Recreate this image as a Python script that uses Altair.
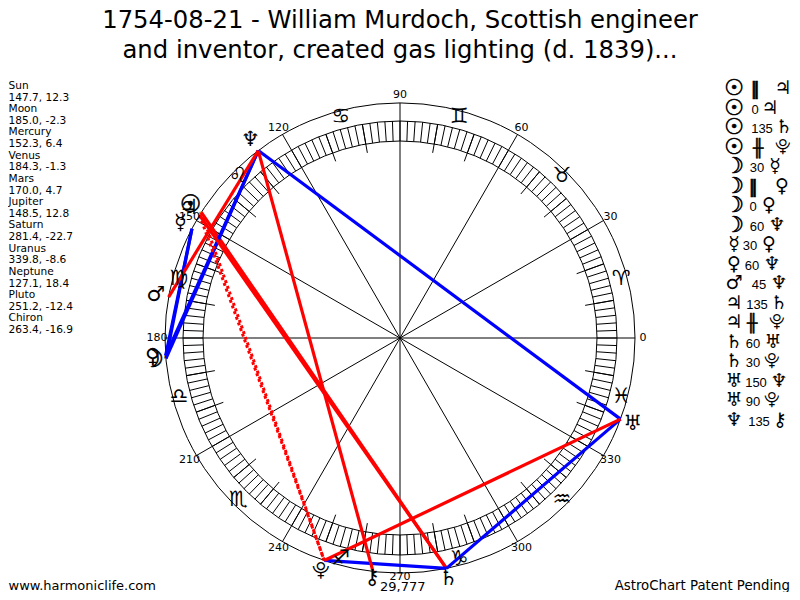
import altair as alt
import numpy as np
import pandas as pd

# ---- values ----
title_lines = ["1754-08-21 - William Murdoch, Scottish engineer",
               "and inventor, created gas lighting (d. 1839)..."]
bodies = ["Sun", "Moon", "Mercury", "Venus", "Mars", "Jupiter", "Saturn",
          "Uranus", "Neptune", "Pluto", "Chiron"]
longitudes = [147.7, 185.0, 152.3, 184.3, 170.0, 148.5, 281.4, 339.8, 127.1, 251.2, 263.4]
latitudes = [12.3, -2.3, 6.4, -1.3, 4.7, 12.8, -22.7, -8.6, 18.4, -12.4, -16.9]
glyphs = ["☉", "☽", "☿", "♀", "♂", "♃", "♄", "♅", "♆", "⯓", "⚷"]
signs = ["♈\ufe0e", "♉\ufe0e", "♊\ufe0e", "♋\ufe0e", "♌\ufe0e", "♍\ufe0e",
         "♎\ufe0e", "♏\ufe0e", "♐\ufe0e", "♑\ufe0e", "♒\ufe0e", "♓\ufe0e"]
aspect_first = ["Sun", "Sun", "Sun", "Sun", "Moon", "Moon", "Moon", "Moon", "Mercury",
                "Venus", "Mars", "Jupiter", "Jupiter", "Saturn", "Saturn", "Uranus", "Uranus", "Neptune"]
aspect_kind = ["par", "0", "135", "cpar", "30", "par", "0", "60", "30",
               "60", "45", "135", "cpar", "60", "30", "150", "90", "135"]
aspect_second = ["Jupiter", "Jupiter", "Saturn", "Pluto", "Mercury", "Venus", "Venus", "Neptune", "Venus",
                 "Neptune", "Neptune", "Saturn", "Pluto", "Uranus", "Pluto", "Neptune", "Pluto", "Chiron"]
kind_label = {"par": "‖", "cpar": "╫"}
footer_left = "www.harmoniclife.com"
footer_right = "AstroChart Patent Pending"
corner_note = "29,777"

# ---- layout of the wheel (pixels of the 800x600 page) ----
CX, CY = 400, 338
R_OUT, R_BAND_O, R_BAND_I, R_TICK, R_SIGN = 235, 217, 197, 188, 229
label_radius = [243, 243, 243, 243, 243, 243, 243, 243, 243, 239, 243, 243]
glyph_radius = [248, 248, 248, 248, 248, 248, 246, 248, 248, 246, 242]
mid_x = [755, 755, 762, 758, 757, 753, 753, 757, 750, 752, 759, 757, 752, 753, 753, 756, 753, 759]
end_x = [783, 770, 784, 783, 775, 782, 769, 777, 769, 772, 779, 779, 777, 773, 772, 779, 772, 780]
HEAVY = {"☉", "☽"}
WIDE = {"⯓"}


def sx(p):
    return np.asarray(p, dtype=float) - CX


def sy(p):
    return CY - np.asarray(p, dtype=float)


def polar(deg, r):
    a = np.radians(np.asarray(deg, dtype=float))
    return r * np.cos(a), r * np.sin(a)


def spokes(degs, r0, r1):
    x, y = polar(degs, r0)
    x2, y2 = polar(degs, r1)
    return pd.DataFrame({"x": x, "y": y, "x2": x2, "y2": y2})


X = alt.X("x:Q", scale=alt.Scale(domain=[-392, 392]), axis=None)
Y = alt.Y("y:Q", scale=alt.Scale(domain=[-254, 330]), axis=None)


def rules(df, **kw):
    return alt.Chart(df).mark_rule(**kw).encode(X, Y, x2="x2:Q", y2="y2:Q")


def texts(df, font="DejaVu Sans", size=11, align="center", **kw):
    return alt.Chart(df).mark_text(font=font, fontSize=size, align=align, baseline="middle",
                                   color="#000000", **kw).encode(X, Y, text="t:N")


def glyph_layers(df, size):
    heavy = df["t"].isin(HEAVY)
    wide = df["t"].isin(WIDE)
    return [texts(df[~heavy & ~wide], size=size),
            texts(df[wide], size=size - 3),
            texts(df[heavy], size=size + 3, stroke="#000000", strokeWidth=0.6)]


def ring(r):
    return alt.Chart(pd.DataFrame({"x": [0], "y": [0]})).mark_point(
        shape="circle", filled=False, size=(2 * r) ** 2, color="#000000", strokeWidth=1, opacity=1
    ).encode(X, Y)


all_deg = np.arange(0, 360, 2)
tens = np.array([d for d in range(0, 360, 10) if d % 30])
thirties = np.arange(0, 360, 30)

lon = dict(zip(bodies, longitudes))
gly = dict(zip(bodies, glyphs))

asp = []
for a, k, b in zip(aspect_first, aspect_kind, aspect_second):
    x, y = polar(lon[a], R_OUT)
    x2, y2 = polar(lon[b], R_OUT)
    asp.append({"x": x, "y": y, "x2": x2, "y2": y2, "k": k})
asp = pd.DataFrame(asp)
colour_of = {"30": "#0000ff", "60": "#0000ff", "150": "#0000ff",
             "45": "#ff0000", "90": "#ff0000", "135": "#ff0000",
             "0": "#daa520", "par": "#daa520"}
asp["c"] = asp["k"].map(colour_of)
solid = asp[asp["k"] != "cpar"]
dotted = asp[asp["k"] == "cpar"]

aspect_layer = alt.Chart(solid).mark_rule(strokeWidth=3.2).encode(
    X, Y, x2="x2:Q", y2="y2:Q", color=alt.Color("c:N", scale=None))
dotted_layer = rules(dotted, color="#ff0000", strokeWidth=3, strokeDash=[3, 3])

gx, gy = polar(longitudes, np.array(glyph_radius))
planet_df = pd.DataFrame({"x": gx, "y": gy, "t": glyphs})

sx_, sy_ = polar(thirties + 15, R_SIGN)
sign_df = pd.DataFrame({"x": sx_, "y": sy_, "t": signs})
sign_layer = texts(sign_df, size=21)

lx, ly = polar(thirties, np.array(label_radius))
label_df = pd.DataFrame({"x": lx, "y": ly, "t": [str(d) for d in thirties]})
label_layer = texts(label_df, size=11)

left_rows = []
for n, lo, la in zip(bodies, longitudes, latitudes):
    left_rows += [n, f"{lo}, {la}"]
left_df = pd.DataFrame({"x": sx([8.5] * len(left_rows)),
                        "y": sy(86 + 11.62 * np.arange(len(left_rows))), "t": left_rows})
left_layer = texts(left_df, size=10.6, align="left")

title_df = pd.DataFrame({"x": [0, 0], "y": sy([21, 50.5]), "t": title_lines})
title_layer = texts(title_df, size=24.3)

row_y = 88 + 19.53 * np.arange(len(aspect_kind))
first_df = pd.DataFrame({"x": sx([734] * len(row_y)), "y": sy(row_y), "t": [gly[a] for a in aspect_first]})
end_df = pd.DataFrame({"x": sx(end_x), "y": sy(row_y), "t": [gly[b] for b in aspect_second]})
mid_df = pd.DataFrame({"x": sx(mid_x), "y": sy(row_y + 2), "t": [kind_label.get(k, k) for k in aspect_kind]})
is_sym = mid_df["t"].isin(list(kind_label.values()))

foot_l = pd.DataFrame({"x": sx([8.5]), "y": sy([585.5]), "t": [footer_left]})
foot_r = pd.DataFrame({"x": sx([790]), "y": sy([585.5]), "t": [footer_right]})
note = pd.DataFrame({"x": sx([380]), "y": sy([586.5]), "t": [corner_note]})

chart = alt.layer(
    ring(R_OUT), ring(R_BAND_O), ring(R_BAND_I),
    rules(spokes(all_deg, R_BAND_I, R_BAND_O), color="#000000", strokeWidth=1),
    rules(spokes(tens, R_TICK, R_BAND_O), color="#000000", strokeWidth=1),
    rules(spokes(thirties, 0, R_OUT), color="#000000", strokeWidth=1),
    aspect_layer, dotted_layer,
    *glyph_layers(planet_df, 21), sign_layer, label_layer, left_layer, title_layer,
    *glyph_layers(first_df, 19), *glyph_layers(end_df, 19),
    texts(mid_df[~is_sym], font="Liberation Sans", size=13),
    texts(mid_df[is_sym], size=17, fontWeight="bold", stroke="#000000", strokeWidth=0.5),
    texts(foot_l, size=13, align="left"), texts(foot_r, size=13.3, align="right"),
    texts(note, size=13, align="left"),
).properties(width=784, height=584, padding=0, autosize=alt.AutoSizeParams(type="none")
).configure_view(stroke=None)

chart.save("out.html", embed_options={"renderer": "svg", "actions": False})
